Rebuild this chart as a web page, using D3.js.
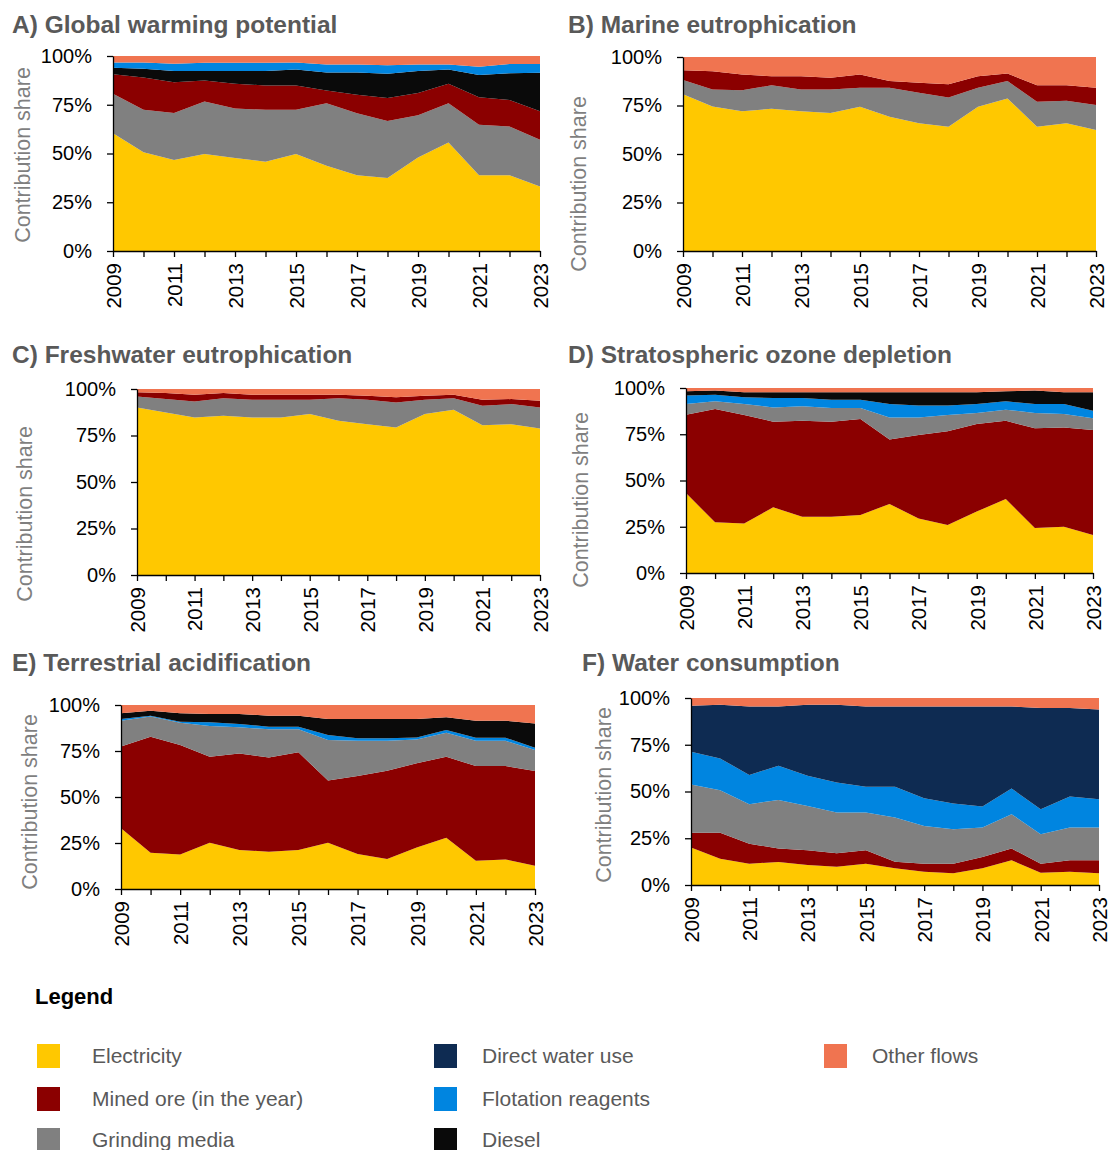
<!DOCTYPE html>
<html>
<head>
<meta charset="utf-8">
<script src="https://cdn.jsdelivr.net/npm/d3@7"></script>
<style>
  body { margin: 0; background: #fff; }
  svg { display: block; }
  text { font-family: "Liberation Sans", Arial, sans-serif; }
</style>
</head>
<body>
<svg id="chart" width="1110" height="1150"></svg>
<script>
// Years shown on every panel
const years = [2009, 2010, 2011, 2012, 2013, 2014, 2015, 2016, 2017, 2018, 2019, 2020, 2021, 2022, 2023];
const yTicks = [0, 25, 50, 75, 100];
const yearLabels = [2009, 2011, 2013, 2015, 2017, 2019, 2021, 2023];

// Contribution shares (%) per impact category, one array per flow
const gwp = {
  "Electricity":           [60.4, 50.6, 46.7, 49.7, 47.7, 45.8, 49.7, 43.7, 38.8, 37.4, 48.0, 55.7, 38.9, 38.8, 33.1],
  "Grinding media":        [20.2, 21.8, 24.1, 27.0, 25.4, 26.6, 22.7, 32.1, 31.9, 29.3, 21.6, 20.1, 25.8, 25.0, 23.9],
  "Mined ore (in the year)": [10.1, 16.6, 15.8, 10.8, 12.7, 12.5, 12.5, 6.5, 9.4, 11.7, 11.4, 10.0, 14.2, 13.7, 14.7],
  "Diesel":                [3.3, 4.5, 5.7, 4.8, 6.5, 7.4, 8.2, 9.3, 11.5, 12.5, 11.3, 7.3, 11.3, 13.6, 19.7],
  "Flotation reagents":    [2.7, 3.2, 3.7, 4.3, 4.3, 4.3, 3.6, 4.1, 4.1, 4.3, 3.4, 2.6, 4.3, 4.8, 4.5],
  "Other flows":           [3.3, 3.3, 4.0, 3.4, 3.4, 3.4, 3.3, 4.3, 4.3, 4.8, 4.3, 4.3, 5.5, 4.1, 4.1]
};

const marineEutro = {
  "Electricity":           [80.8, 74.5, 72.0, 73.3, 72.0, 71.1, 74.3, 69.2, 65.8, 64.1, 74.3, 78.6, 64.1, 65.8, 62.4],
  "Grinding media":        [7.3, 8.8, 10.8, 12.1, 11.3, 12.2, 9.9, 15.0, 15.8, 15.0, 9.9, 9.0, 12.8, 11.6, 12.8],
  "Mined ore (in the year)": [5.1, 9.4, 8.2, 4.7, 6.8, 6.0, 6.8, 3.4, 5.1, 6.8, 5.9, 3.9, 8.5, 8.0, 9.0],
  "Other flows":           [6.8, 7.3, 9.0, 9.9, 9.9, 10.7, 9.0, 12.4, 13.3, 14.1, 9.9, 8.5, 14.6, 14.6, 15.8]
};

const freshEutro = {
  "Electricity":           [90.1, 87.4, 84.7, 85.6, 84.7, 84.7, 86.5, 82.9, 81.1, 79.3, 86.5, 88.8, 80.5, 81.1, 78.7],
  "Grinding media":        [5.9, 7.2, 8.6, 9.4, 9.5, 9.5, 7.7, 12.1, 13.1, 13.5, 7.7, 6.2, 10.5, 10.8, 11.4],
  "Mined ore (in the year)": [2.2, 3.2, 3.6, 2.8, 2.7, 2.7, 2.7, 1.9, 2.2, 2.7, 2.2, 1.9, 3.2, 2.7, 3.6],
  "Other flows":           [1.8, 2.2, 3.1, 2.2, 3.1, 3.1, 3.1, 3.1, 3.6, 4.5, 3.6, 3.1, 5.8, 5.4, 6.3]
};

const ozone = {
  "Electricity":           [43.2, 27.4, 26.8, 35.5, 30.4, 30.4, 31.4, 37.3, 29.5, 25.9, 33.2, 40.0, 24.3, 25.0, 20.5],
  "Mined ore (in the year)": [42.4, 61.2, 58.6, 46.3, 51.9, 51.4, 51.8, 34.8, 45.1, 50.7, 47.3, 42.3, 53.9, 53.7, 56.8],
  "Grinding media":        [5.8, 4.2, 6.0, 7.7, 7.8, 7.4, 6.0, 12.0, 9.5, 8.8, 6.0, 6.0, 8.3, 7.2, 6.3],
  "Flotation reagents":    [4.5, 3.6, 3.6, 5.1, 4.5, 4.5, 4.5, 7.3, 6.4, 5.1, 4.9, 4.5, 4.9, 5.5, 4.1],
  "Diesel":                [2.3, 2.2, 2.7, 3.1, 3.1, 4.0, 4.0, 6.3, 7.2, 7.2, 6.3, 5.4, 7.2, 6.3, 10.0],
  "Other flows":           [1.8, 1.4, 2.3, 2.3, 2.3, 2.3, 2.3, 2.3, 2.3, 2.3, 2.3, 1.8, 1.4, 2.3, 2.3]
};

const acidification = {
  "Electricity":           [33.0, 19.7, 18.8, 25.2, 21.2, 20.3, 21.2, 25.2, 19.0, 16.3, 22.5, 27.9, 15.4, 16.1, 12.7],
  "Mined ore (in the year)": [44.4, 63.1, 59.5, 46.7, 52.5, 51.1, 53.1, 33.7, 42.4, 48.0, 45.8, 44.0, 51.4, 50.7, 51.4],
  "Grinding media":        [14.1, 10.9, 12.1, 16.7, 14.2, 15.4, 12.5, 22.1, 19.2, 16.3, 13.0, 13.0, 13.8, 13.8, 11.4],
  "Flotation reagents":    [0.9, 0.5, 0.5, 2.0, 1.8, 1.4, 1.4, 2.7, 1.3, 1.3, 1.1, 1.5, 1.6, 1.6, 1.3],
  "Diesel":                [3.1, 2.7, 4.6, 4.5, 5.4, 6.0, 6.0, 8.7, 10.5, 10.5, 10.0, 6.9, 9.3, 9.3, 13.2],
  "Other flows":           [4.5, 3.1, 4.5, 4.9, 4.9, 5.8, 5.8, 7.6, 7.6, 7.6, 7.6, 6.7, 8.5, 8.5, 10.0]
};

const water = {
  "Electricity":           [20.0, 14.1, 11.4, 12.3, 10.7, 9.8, 11.4, 8.9, 7.1, 6.3, 8.9, 13.2, 6.6, 7.1, 6.3],
  "Mined ore (in the year)": [8.0, 13.9, 10.7, 7.2, 7.9, 7.2, 7.2, 3.6, 4.3, 5.1, 6.1, 6.3, 4.8, 6.1, 6.9],
  "Grinding media":        [25.8, 22.7, 21.1, 26.0, 23.7, 21.8, 20.2, 23.6, 20.2, 18.4, 15.7, 18.4, 15.7, 17.5, 17.5],
  "Flotation reagents":    [17.5, 17.0, 15.6, 18.3, 16.1, 16.0, 13.7, 16.4, 14.8, 13.8, 11.3, 13.7, 13.4, 16.6, 15.2],
  "Direct water use":      [24.6, 28.7, 36.7, 31.7, 38.0, 41.6, 43.0, 43.0, 49.1, 51.9, 53.5, 43.9, 54.1, 47.3, 47.9],
  "Other flows":           [4.1, 3.6, 4.5, 4.5, 3.6, 3.6, 4.5, 4.5, 4.5, 4.5, 4.5, 4.5, 5.4, 5.4, 6.2]
};

const flowColors = {
  "Electricity": "#ffc800",
  "Mined ore (in the year)": "#8b0000",
  "Grinding media": "#808080",
  "Direct water use": "#0e2b52",
  "Flotation reagents": "#0085e0",
  "Diesel": "#0a0a0a",
  "Other flows": "#f07450"
};

// Panel layout: plot box, title and axis-title placement
const panels = [
  { title: "A) Global warming potential", data: gwp, tx: 12, ty: 33,
    x0: 113, x1: 540, y0: 56, y1: 251, lx: 22, ly: 155 },
  { title: "B) Marine eutrophication", data: marineEutro, tx: 568, ty: 33,
    x0: 683, x1: 1096, y0: 57, y1: 251, lx: 578, ly: 184 },
  { title: "C) Freshwater eutrophication", data: freshEutro, tx: 12, ty: 363,
    x0: 137, x1: 540, y0: 389, y1: 575, lx: 24, ly: 514 },
  { title: "D) Stratospheric ozone depletion", data: ozone, tx: 568, ty: 363,
    x0: 686, x1: 1093, y0: 388, y1: 573, lx: 580, ly: 500 },
  { title: "E) Terrestrial acidification", data: acidification, tx: 12, ty: 671,
    x0: 121, x1: 535, y0: 705, y1: 889, lx: 29, ly: 802 },
  { title: "F) Water consumption", data: water, tx: 582, ty: 671,
    x0: 691, x1: 1099, y0: 698, y1: 885, lx: 603, ly: 795 }
];

const svg = d3.select("#chart");

function drawPanel(p) {
  const g = svg.append("g");
  const keys = Object.keys(p.data);
  const x = d3.scaleLinear().domain([years[0], years[years.length - 1]]).range([p.x0, p.x1]);
  const y = d3.scaleLinear().domain([0, 100]).range([p.y1, p.y0]);

  const rows = years.map((yr, i) => {
    const r = { year: yr };
    keys.forEach(k => { r[k] = p.data[k][i]; });
    return r;
  });
  const stacked = d3.stack().keys(keys)(rows);
  const area = d3.area()
    .x(d => x(d.data.year))
    .y0(d => y(d[0]))
    .y1(d => y(Math.min(100, d[1])));

  g.selectAll("path.layer")
    .data(stacked)
    .join("path")
    .attr("class", "layer")
    .attr("fill", d => flowColors[d.key])
    .attr("d", area);

  // Y axis
  const ya = g.append("g")
    .attr("transform", `translate(${p.x0},0)`)
    .call(d3.axisLeft(y).tickValues(yTicks).tickFormat(d => d + "%")
      .tickSize(6).tickSizeOuter(0).tickPadding(15));
  ya.selectAll("text").attr("font-size", 20).attr("fill", "#000")
    .style("font-family", '"Liberation Sans", Arial, sans-serif');
  ya.selectAll("line, path").attr("stroke", "#000").attr("stroke-width", 1.3);

  // X axis, tick at every year, label every other year
  const xa = g.append("g")
    .attr("transform", `translate(0,${p.y1})`)
    .call(d3.axisBottom(x).tickValues(years)
      .tickFormat(d => yearLabels.includes(d) ? String(d) : "")
      .tickSize(6).tickSizeOuter(0));
  xa.selectAll("text")
    .attr("font-size", 20.5).attr("fill", "#000")
    .style("font-family", '"Liberation Sans", Arial, sans-serif')
    .attr("transform", "rotate(-90)")
    .attr("text-anchor", "end")
    .attr("x", -12).attr("y", 0).attr("dy", "0.36em");
  xa.selectAll("line, path").attr("stroke", "#000").attr("stroke-width", 1.3);

  // Panel title
  g.append("text")
    .attr("x", p.tx).attr("y", p.ty)
    .attr("font-size", 24.5).attr("font-weight", "bold").attr("fill", "#595959")
    .text(p.title);

  // Axis title
  g.append("text")
    .attr("transform", `translate(${p.lx},${p.ly}) rotate(-90)`)
    .attr("text-anchor", "middle").attr("dy", "0.35em")
    .attr("font-size", 21.5).attr("fill", "#7f7f7f")
    .text("Contribution share");
}

panels.forEach(drawPanel);

// Legend
const legendItems = [
  { key: "Electricity", col: 0, row: 0 },
  { key: "Mined ore (in the year)", col: 0, row: 1 },
  { key: "Grinding media", col: 0, row: 2 },
  { key: "Direct water use", col: 1, row: 0 },
  { key: "Flotation reagents", col: 1, row: 1 },
  { key: "Diesel", col: 1, row: 2 },
  { key: "Other flows", col: 2, row: 0 }
];
const colX = [37, 434, 824];
const colTextX = [92, 482, 872];
const rowY = [1044, 1087, 1128];

svg.append("text")
  .attr("x", 35).attr("y", 1004)
  .attr("font-size", 22).attr("font-weight", "bold").attr("fill", "#000")
  .text("Legend");

const leg = svg.append("g").selectAll("g")
  .data(legendItems)
  .join("g")
  .attr("transform", d => `translate(${colX[d.col]},${rowY[d.row]})`);
leg.append("rect")
  .attr("width", 23).attr("height", 24)
  .attr("fill", d => flowColors[d.key]);
leg.append("text")
  .attr("x", d => colTextX[d.col] - colX[d.col]).attr("y", 12).attr("dy", "0.35em")
  .attr("font-size", 21).attr("fill", "#595959")
  .text(d => d.key);
</script>
</body>
</html>
